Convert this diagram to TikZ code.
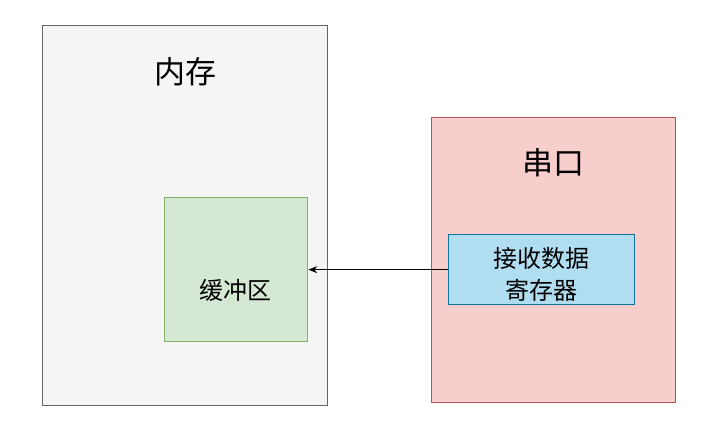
\documentclass[tikz,border=0pt]{standalone}
\usepackage{fontspec}
\newfontfamily\cjk{Noto Sans CJK SC}
\usetikzlibrary{arrows.meta}
\begin{document}
\begin{tikzpicture}[x=1pt,y=-1pt,font=\cjk,
  box/.style={draw,line width=1.3pt,anchor=north west,inner sep=0pt}]
\useasboundingbox (0,0) rectangle (727,432);
\definecolor{memf}{HTML}{F5F5F5}\definecolor{mems}{HTML}{666666}
\definecolor{gf}{HTML}{D5E8D4}\definecolor{gs}{HTML}{82B366}
\definecolor{rf}{HTML}{F8CECC}\definecolor{rs}{HTML}{B85450}
\definecolor{bf}{HTML}{B1DDF0}\definecolor{bs}{HTML}{10739E}
\node[box,fill=memf,draw=mems,minimum width=285pt,minimum height=380pt] (mem) at (42,25) {};
\node[font=\cjk\fontsize{31}{36}\selectfont] (memt) at (185,72) {内存};
\node[box,fill=gf,draw=gs,minimum width=143pt,minimum height=144pt] (buf) at (164,197) {};
\node[font=\cjk\fontsize{24}{28}\selectfont] (buft) at (235,290) {缓冲区};
\node[box,fill=rf,draw=rs,minimum width=244pt,minimum height=285pt] (ser) at (431,117) {};
\node[font=\cjk\fontsize{31}{36}\selectfont] (sert) at (553,163) {串口};
\node[box,fill=bf,draw=bs,minimum width=186pt,minimum height=70pt] (reg) at (448,234) {};
\node[font=\cjk\fontsize{24}{32}\selectfont,align=center] (regt) at (541,274) {接收数据\\寄存器};
\draw[-{Stealth[length=9pt,width=7pt]},line width=1pt] (reg.west) -- (buf.east);
\end{tikzpicture}
\end{document}
